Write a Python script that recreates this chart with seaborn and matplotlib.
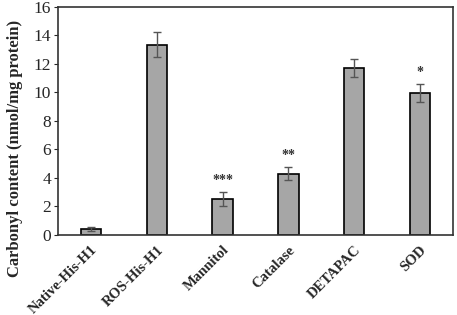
import matplotlib
matplotlib.use("Agg")
import matplotlib.pyplot as plt
import seaborn as sns
import pandas as pd

categories = ["Native-His-H1", "ROS-His-H1", "Mannitol", "Catalase", "DETAPAC", "SOD"]
values = [0.42, 13.35, 2.5, 4.3, 11.72, 9.95]
errors = [0.15, 0.87, 0.5, 0.45, 0.65, 0.65]
stars = ["", "", "***", "**", "", "*"]

sns.set_style("white")
plt.rcParams['font.family'] = ['Liberation Serif', 'DejaVu Serif']

df = pd.DataFrame({"cat": categories, "val": values})
fig = plt.figure(figsize=(4.57, 3.15), dpi=100)
ax = fig.add_axes([0.127, 0.254, 0.864, 0.724])
sns.barplot(data=df, x="cat", y="val", ax=ax, color="#a6a6a6", edgecolor="black",
            linewidth=1.2, width=0.31, errorbar=None, saturation=1)
ax.errorbar(range(len(categories)), values, yerr=errors, fmt="none",
            ecolor="#555555", elinewidth=1, capsize=3)
for i, (v, e, s) in enumerate(zip(values, errors, stars)):
    if s:
        ax.text(i, v + e + 0.35, s, ha="center", va="bottom", fontsize=10,
                fontweight="bold", color="#333333")
ax.set_ylim(0, 16)
ax.set_yticks(range(0, 17, 2))
ax.set_xlim(-0.5, 5.5)
ax.set_xlabel("")
ax.set_ylabel("Carbonyl content (nmol/mg protein)", fontsize=12, fontweight="bold")
ax.yaxis.set_label_coords(-0.09, 0.38)
ax.tick_params(axis="y", labelsize=12.5, length=3, direction="out", left=True, pad=2)
ax.tick_params(axis="x", length=0, pad=6)
ax.set_xticks(range(len(categories)))
ax.set_xticklabels(categories, rotation=45, ha="right", rotation_mode="anchor",
                   fontsize=10.5, fontweight="bold")
for sp in ax.spines.values():
    sp.set_color("#333333")
    sp.set_linewidth(1.2)
fig.savefig("out.png", dpi=100)
